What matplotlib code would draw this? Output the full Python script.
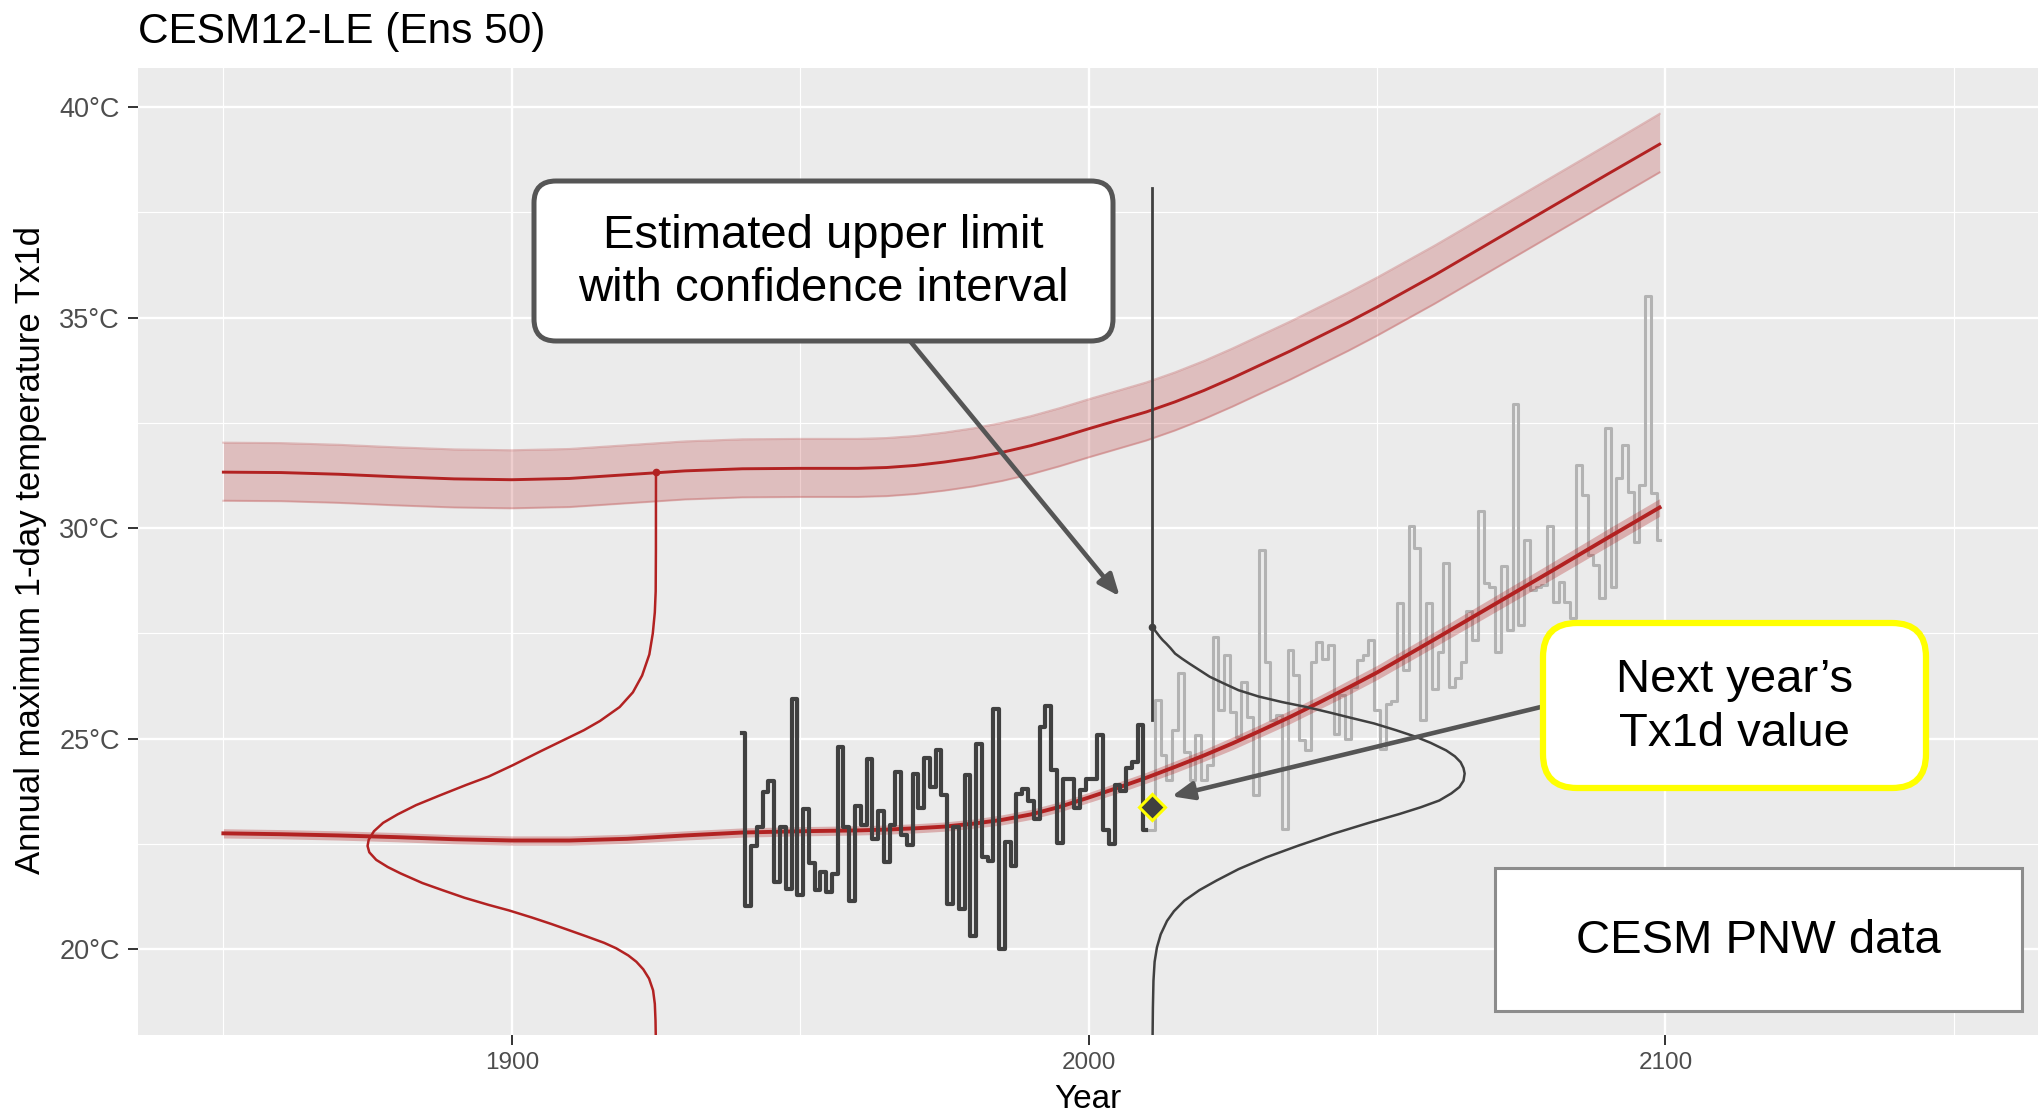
import matplotlib
matplotlib.use("Agg")
import matplotlib.pyplot as plt
from matplotlib.patches import FancyBboxPatch, Rectangle, ArrowStyle
from matplotlib.transforms import IdentityTransform

plt.rcParams["font.family"] = ["Liberation Sans", "DejaVu Sans"]

# annual maximum 1-day temperature, model run used as "observations"
obs_years = list(range(1940, 2011))
obs_tx1d = [
    25.13, 21.03, 22.46, 22.90, 23.73, 23.99, 21.59, 22.90, 21.43, 25.95,
    21.29, 23.33, 22.04, 21.40, 21.83, 21.35, 21.79, 24.79, 22.90, 21.15,
    23.41, 22.94, 24.52, 22.62, 23.29, 22.06, 22.94, 24.21, 22.72, 22.48,
    24.15, 23.36, 24.55, 23.85, 24.72, 23.67, 21.07, 22.90, 20.95, 24.13,
    20.32, 24.88, 22.18, 22.10, 25.70, 20.00, 22.54, 21.98, 23.69, 23.81,
    23.53, 23.10, 25.28, 25.77, 24.25, 22.52, 24.05, 24.05, 23.36, 23.77,
    24.05, 24.05, 25.08, 22.82, 22.50, 23.90, 23.75, 24.30, 24.45, 25.32,
    22.83,
]

# the rest of the same run (future years)
proj_years = list(range(2010, 2100))
proj_tx1d = [
    22.83, 22.83, 25.91, 24.60, 24.01, 25.20, 26.55, 24.68, 24.01, 25.08,
    24.01, 24.37, 27.42, 25.67, 26.98, 25.63, 25.04, 26.35, 25.52, 23.65,
    29.48, 26.83, 25.44, 25.56, 22.86, 27.10, 26.51, 24.96, 24.72, 26.83,
    27.30, 26.90, 27.22, 25.12, 26.03, 25.00, 26.23, 26.87, 26.98, 27.34,
    25.67, 24.76, 25.83, 25.90, 28.21, 26.63, 30.04, 29.52, 25.44, 28.21,
    26.19, 27.06, 29.17, 26.23, 26.43, 26.83, 28.02, 27.34, 30.40, 28.69,
    28.61, 27.06, 29.09, 27.58, 32.94, 27.70, 29.72, 28.53, 28.60, 28.65,
    30.04, 28.25, 28.73, 28.25, 27.86, 31.51, 30.79, 29.37, 29.13, 28.33,
    32.38, 28.61, 31.19, 31.98, 30.87, 29.68, 31.03, 35.52, 30.83, 29.72,
]

# fitted GEV location (trend) and estimated upper limit with CI
fit_years = [1850, 1860, 1870, 1880, 1890, 1900, 1910, 1920, 1930, 1940,
             1950, 1960, 1965, 1970, 1975, 1980, 1985, 1990, 1995, 2000,
             2005, 2010, 2015, 2020, 2025, 2030, 2035, 2040, 2045, 2050,
             2060, 2070, 2080, 2090, 2099]
trend_mid = [22.75, 22.73, 22.70, 22.66, 22.61, 22.58, 22.58, 22.62, 22.70, 22.77,
             22.80, 22.82, 22.84, 22.87, 22.91, 22.98, 23.07, 23.20, 23.38, 23.60,
             23.83, 24.07, 24.33, 24.60, 24.89, 25.20, 25.52, 25.86, 26.21, 26.57,
             27.36, 28.16, 28.96, 29.77, 30.49]
trend_lo = [22.64, 22.62, 22.59, 22.55, 22.50, 22.47, 22.47, 22.51, 22.59, 22.66,
            22.69, 22.71, 22.73, 22.76, 22.80, 22.87, 22.95, 23.08, 23.26, 23.48,
            23.70, 23.94, 24.19, 24.46, 24.74, 25.05, 25.36, 25.70, 26.04, 26.40,
            27.18, 27.97, 28.76, 29.56, 30.28]
trend_hi = [22.86, 22.84, 22.81, 22.77, 22.72, 22.69, 22.69, 22.73, 22.81, 22.88,
            22.91, 22.93, 22.95, 22.98, 23.02, 23.09, 23.19, 23.32, 23.50, 23.72,
            23.96, 24.20, 24.47, 24.74, 25.04, 25.35, 25.68, 26.02, 26.38, 26.74,
            27.54, 28.35, 29.16, 29.98, 30.70]
upper_mid = [31.33, 31.32, 31.28, 31.22, 31.17, 31.15, 31.18, 31.27, 31.36, 31.41,
             31.42, 31.42, 31.44, 31.49, 31.57, 31.67, 31.80, 31.96, 32.15, 32.36,
             32.56, 32.76, 33.00, 33.27, 33.57, 33.89, 34.21, 34.55, 34.89, 35.25,
             36.01, 36.81, 37.61, 38.41, 39.12]
upper_lo = [30.65, 30.64, 30.60, 30.54, 30.49, 30.47, 30.50, 30.59, 30.68, 30.73,
            30.74, 30.74, 30.76, 30.81, 30.89, 30.99, 31.12, 31.28, 31.47, 31.68,
            31.88, 32.08, 32.32, 32.59, 32.89, 33.21, 33.53, 33.87, 34.21, 34.57,
            35.33, 36.13, 36.93, 37.73, 38.45]
upper_hi = [32.03, 32.02, 31.98, 31.92, 31.87, 31.85, 31.88, 31.97, 32.06, 32.11,
            32.12, 32.12, 32.14, 32.19, 32.27, 32.37, 32.50, 32.66, 32.85, 33.06,
            33.26, 33.46, 33.70, 33.97, 34.27, 34.59, 34.91, 35.25, 35.59, 35.95,
            36.71, 37.51, 38.31, 39.11, 39.84]

# GEV density for 1925, drawn sideways (width in years left of 1925)
dens1925_year = 1925
dens1925_top = 31.33
dens1925_temp = [31.33, 29.5, 28.5, 28.0, 27.5, 27.0, 26.5, 26.1, 25.75, 25.42,
                 25.2, 25.0, 24.7, 24.37, 24.1, 23.9, 23.65, 23.42, 23.2, 23.0,
                 22.8, 22.6, 22.45, 22.3, 22.12, 21.95, 21.8, 21.57, 21.4, 21.22,
                 21.05, 20.92, 20.75, 20.6, 20.47, 20.3, 20.15, 20.02, 19.85, 19.7,
                 19.52, 19.3, 19.02, 18.7, 18.3, 17.9]
dens1925_width = [0.0, 0.01, 0.05, 0.2, 0.55, 1.15, 2.4, 4.0, 6.3, 9.7,
                  12.5, 15.5, 20.0, 24.8, 29.0, 32.9, 37.5, 41.6, 44.8, 47.3,
                  48.9, 49.8, 50.0, 49.7, 48.5, 46.5, 44.3, 40.5, 37.0, 33.2,
                  29.0, 25.5, 21.5, 18.2, 15.5, 12.0, 9.0, 6.9, 4.8, 3.4,
                  2.2, 1.2, 0.5, 0.2, 0.08, 0.03]

# GEV density for next year (2011), drawn to the right of 2011
dens2011_year = 2011
dens2011_top = 27.64
dens2011_temp = [27.64, 27.58, 27.50, 27.42, 27.34, 27.26, 27.15, 27.02, 26.90, 26.78,
                 26.63, 26.47, 26.32, 26.15, 26.0, 25.87, 25.75, 25.62, 25.50, 25.36,
                 25.2, 25.05, 24.9, 24.72, 24.58, 24.44, 24.3, 24.17, 24.0, 23.85,
                 23.7, 23.53, 23.37, 23.21, 23.0, 22.74, 22.45, 22.18, 21.9, 21.63,
                 21.4, 21.15, 20.9, 20.67, 20.35, 20.04, 19.7, 19.25, 18.6, 17.95]
dens2011_width = [0.0, 0.45, 0.9, 1.35, 1.85, 2.45, 3.2, 4.0, 5.2, 6.5,
                  8.2, 10.0, 12.3, 15.0, 18.5, 22.5, 26.8, 30.8, 34.3, 38.5,
                  42.3, 45.6, 48.3, 51.0, 52.5, 53.5, 54.0, 54.2, 54.0, 53.3,
                  51.9, 49.8, 46.6, 42.9, 37.6, 31.4, 25.2, 19.8, 15.0, 11.2,
                  8.2, 5.6, 3.8, 2.6, 1.5, 0.85, 0.45, 0.25, 0.15, 0.1]

# upper-limit range for next year and next year's value
next_year = 2011
limit_range = [25.45, 38.08]
next_value = 23.38

W, H = 2038, 1116
fig = plt.figure(figsize=(W / 100, H / 100), dpi=100)
ax = fig.add_axes([138 / W, 1 - 1035 / H, 1900 / W, 967 / H])
ax.set_facecolor("#EBEBEB")
for s in ax.spines.values():
    s.set_visible(False)

ax.set_xlim(1835.2, 2164.6)
ax.set_ylim(17.96, 40.93)
ax.set_xticks([1900, 2000, 2100])
ax.set_xticks([1850, 1950, 2050, 2150], minor=True)
ax.set_yticks([20, 25, 30, 35, 40])
ax.set_yticklabels(["20°C", "25°C", "30°C", "35°C", "40°C"])
ax.set_yticks([22.5, 27.5, 32.5, 37.5], minor=True)
ax.grid(which="major", color="white", lw=1.7)
ax.grid(which="minor", color="white", lw=0.85)
ax.set_axisbelow(True)
ax.tick_params(which="minor", length=0)
ax.tick_params(which="major", length=7, width=1.4, color="#333333",
               labelcolor="#4D4D4D")
ax.tick_params(axis="y", labelsize=19.5, pad=6)
ax.tick_params(axis="x", labelsize=17.5, pad=5)

red = "#B22222"

# upper limit band
ax.fill_between(fit_years, upper_lo, upper_hi, color=red, alpha=0.22, lw=0, zorder=2)
ax.plot(fit_years, upper_lo, color=red, alpha=0.25, lw=1.5, zorder=2)
ax.plot(fit_years, upper_hi, color=red, alpha=0.25, lw=1.5, zorder=2)
ax.plot(fit_years, upper_mid, color=red, lw=2.1, zorder=3)

# future years in light grey
ax.step(proj_years, proj_tx1d, where="mid", color="#B3B3B3", lw=2.2, zorder=3)

# location trend
ax.fill_between(fit_years, trend_lo, trend_hi, color=red, alpha=0.3, lw=0, zorder=4)
ax.plot(fit_years, trend_mid, color=red, lw=2.8, zorder=4)

# observed years
ax.step(obs_years, obs_tx1d, where="mid", color="#404040", lw=3.0, zorder=5)

# sideways densities
ax.plot([dens1925_year - w for w in dens1925_width], dens1925_temp,
        color=red, lw=1.8, zorder=6)
ax.plot([dens1925_year], [dens1925_top], "o", color=red, ms=4.5, zorder=6)
ax.plot([dens2011_year + w for w in dens2011_width], dens2011_temp,
        color="#404040", lw=1.8, zorder=6)
ax.plot([dens2011_year], [dens2011_top], "o", color="#404040", ms=4.5, zorder=6)

ax.plot([next_year, next_year], limit_range, color="#404040", lw=2.0, zorder=6)
ax.plot([next_year], [next_value], "D", ms=13, mfc="#404040", mec="#FFFF00",
        mew=2.2, zorder=7)

# arrows from the boxes
head = ArrowStyle("-|>", head_length=0.65, head_width=0.27)
ax.annotate("", xy=(2005.4, 28.38), xycoords="data",
            xytext=(910, H - 341), textcoords="figure pixels",
            arrowprops=dict(arrowstyle=head, mutation_scale=20, lw=3.3,
                            color="#555555", shrinkA=0, shrinkB=0), zorder=8)
ax.annotate("", xy=(2014.4, 23.63), xycoords="data",
            xytext=(1545, H - 706), textcoords="figure pixels",
            arrowprops=dict(arrowstyle=head, mutation_scale=20, lw=3.3,
                            color="#555555", shrinkA=0, shrinkB=0), zorder=8)

# text boxes
box1 = FancyBboxPatch((534, H - 341), 579, 160,
                      boxstyle="round,pad=0,rounding_size=22",
                      fc="white", ec="#555555", lw=3.6,
                      transform=IdentityTransform(), zorder=10)
box2 = FancyBboxPatch((1543, H - 788), 383, 165,
                      boxstyle="round,pad=0,rounding_size=34",
                      fc="white", ec="#FFFF00", lw=4.5,
                      transform=IdentityTransform(), zorder=10)
box3 = Rectangle((1495, H - 1011), 527, 143, fc="white", ec="#8C8C8C", lw=2.2,
                 transform=IdentityTransform(), zorder=10)
for p in (box1, box2, box3):
    fig.add_artist(p)

fig.text(823.5 / W, 1 - 262.5 / H, "Estimated upper limit\nwith confidence interval",
         ha="center", va="center", fontsize=34, linespacing=1.28, zorder=11)
fig.text(1734.5 / W, 1 - 707 / H, "Next year\u2019s\nTx1d value",
         ha="center", va="center", fontsize=34, linespacing=1.28, zorder=11)
fig.text(1758.5 / W, 1 - 941 / H, "CESM PNW data",
         ha="center", va="center", fontsize=34, zorder=11)

fig.text(138 / W, 1 - 43 / H, "CESM12-LE (Ens 50)", ha="left", va="baseline",
         fontsize=30.5)
fig.text(31 / W, 1 - 550 / H, "Annual maximum 1-day temperature Tx1d",
         rotation=90, ha="center", va="center", fontsize=25)
fig.text(1088 / W, 1 - 1100 / H, "Year", ha="center", va="center", fontsize=24)

fig.savefig("out.png", dpi=100, facecolor="white")
